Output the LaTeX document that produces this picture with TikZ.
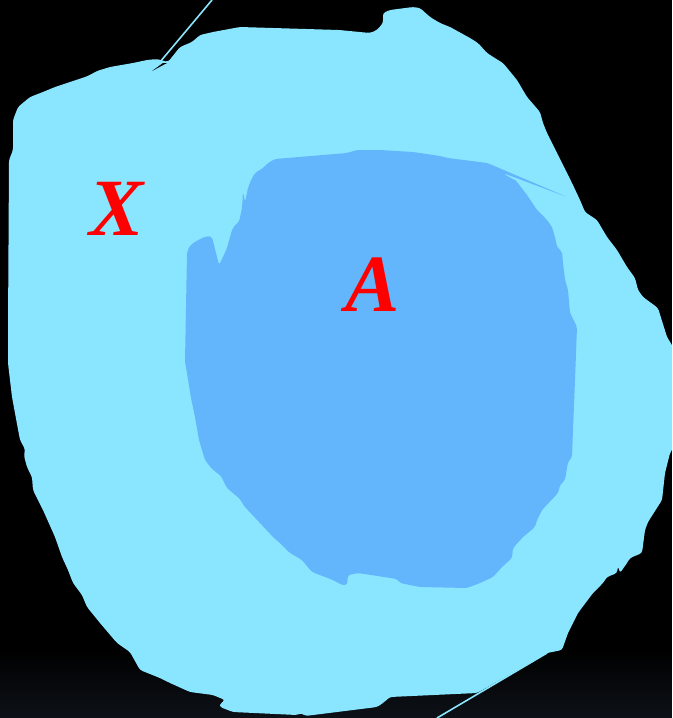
\documentclass[tikz,border=0pt]{standalone}
\usepackage{fontspec}
\setmainfont{Liberation Serif}
\usepackage{tikz}
\usetikzlibrary{positioning,calc}

\definecolor{setX}{RGB}{138,230,255}
\definecolor{setA}{RGB}{99,181,252}
\definecolor{bgbot}{RGB}{13,17,23}
\tikzset{
  blob/.style={rounded corners=2pt},
  setlabel/.style={text=red,inner sep=0pt,font=\fontsize{61}{61}\bfseries\itshape\selectfont},
}

\begin{document}
\begin{tikzpicture}[x=0.75pt,y=-0.75pt]
  \useasboundingbox (0,0) rectangle (672,718);
  \clip (0,0) rectangle (672,718);
  \fill[black] (0,0) rectangle (672,718);
  \foreach \i in {0,...,33}{%
    \pgfmathsetmacro{\p}{\i*3}
    \fill[bgbot!\p!black] (0,650+2*\i) rectangle (672,652+2*\i);
  }
  % the set X
  \fill[setX,blob] (13,150) -- (13,120) -- (18,107) -- (30,97) -- (43,92) -- (55,87) -- (67,83)
    -- (88,76) -- (97,71) -- (110,67) -- (133,63) -- (147,60) -- (157,59) -- (168,62)
    -- (180,47) -- (192,42) -- (200,35) -- (213,32) -- (240,27) -- (339,30) -- (370,33)
    -- (377,30) -- (383,23) -- (383,13) -- (390,10) -- (413,7) -- (420,8) -- (430,17)
    -- (440,23) -- (450,27) -- (470,38) -- (478,43) -- (487,53) -- (498,60) -- (503,63)
    -- (517,80) -- (527,97) -- (540,112) -- (543,123) -- (547,133) -- (557,153) -- (572,183)
    -- (580,200) -- (585,212) -- (597,220) -- (607,237) -- (617,250) -- (627,267)
    -- (635,278) -- (638,290) -- (643,297) -- (658,308) -- (667,337) -- (678,355)
    -- (678,440) -- (670,453) -- (665,473) -- (662,500) -- (648,522) -- (645,530)
    -- (642,553) -- (630,558) -- (627,563) -- (620,573) -- (618,566) -- (617,573)
    -- (607,577) -- (603,583) -- (593,593) -- (578,613) -- (568,633) -- (562,650)
    -- (547,653) -- (500,680) -- (477,693) -- (390,697) -- (383,703) -- (377,707)
    -- (305,716) -- (302,713) -- (297,715) -- (233,712) -- (220,707) -- (220,704)
    -- (225,700) -- (213,695) -- (190,692) -- (170,683) -- (160,678) -- (140,670)
    -- (130,652) -- (117,643) -- (100,623) -- (87,607) -- (82,595) -- (73,583)
    -- (68,570) -- (62,557) -- (55,537) -- (43,510) -- (33,490) -- (32,477) -- (27,467)
    -- (24,456) -- (25,449) -- (20,440) -- (12,397) -- (8,363) -- (8,330) -- (9,160) -- cycle;
  \fill[black] (152,71) -- (163,63) -- (167,63) -- cycle;
  \coordinate (xtop) at (160,62);
  \coordinate (xtopend) at (212,0);
  \coordinate (xbot) at (547,653);
  \coordinate (xbotend) at (437,718);
  \draw[setX,line width=1.2pt] (xtop) -- (xtopend);
  \draw[setX,line width=1.2pt] (xbot) -- (xbotend);
  % the set A
  \fill[setA,blob] (268,163) -- (275,159) -- (347,153) -- (357,150) -- (380,150) -- (413,152)
    -- (440,156) -- (448,158) -- (487,163) -- (492,165) -- (567,197) -- (503,173)
    -- (507,176) -- (515,180) -- (517,182) -- (527,195) -- (537,210) -- (547,220)
    -- (552,227) -- (555,237) -- (557,247) -- (562,252) -- (563,263) -- (565,280)
    -- (568,290) -- (570,313) -- (577,327) -- (575,380) -- (573,430) -- (572,457)
    -- (568,462) -- (565,480) -- (560,485) -- (558,493) -- (542,510) -- (537,520)
    -- (535,527) -- (523,537) -- (513,548) -- (512,558) -- (502,567) -- (493,577)
    -- (480,583) -- (467,588) -- (420,587) -- (400,583) -- (397,579) -- (358,573)
    -- (348,575) -- (347,585) -- (342,585) -- (333,580) -- (312,572) -- (302,560)
    -- (290,553) -- (287,550) -- (280,543) -- (274,538) -- (244,506) -- (240,499)
    -- (227,488) -- (221,476) -- (212,469) -- (205,460) -- (199,440) -- (195,417)
    -- (191,398) -- (187,373) -- (185,362) -- (187,253) -- (189,247) -- (193,243)
    -- (202,238) -- (208,236) -- (212,237) -- (219,265) -- (223,257) -- (227,248)
    -- (232,230) -- (235,225) -- (239,222) -- (242,208) -- (243,192) -- (245,202)
    -- (248,188) -- (251,180) -- (255,173) -- (263,168) -- cycle;
  \node[setlabel] (labX) at (117,209) {X};
  \node[setlabel] (labA) at (373,285) {A};
\end{tikzpicture}
\end{document}
